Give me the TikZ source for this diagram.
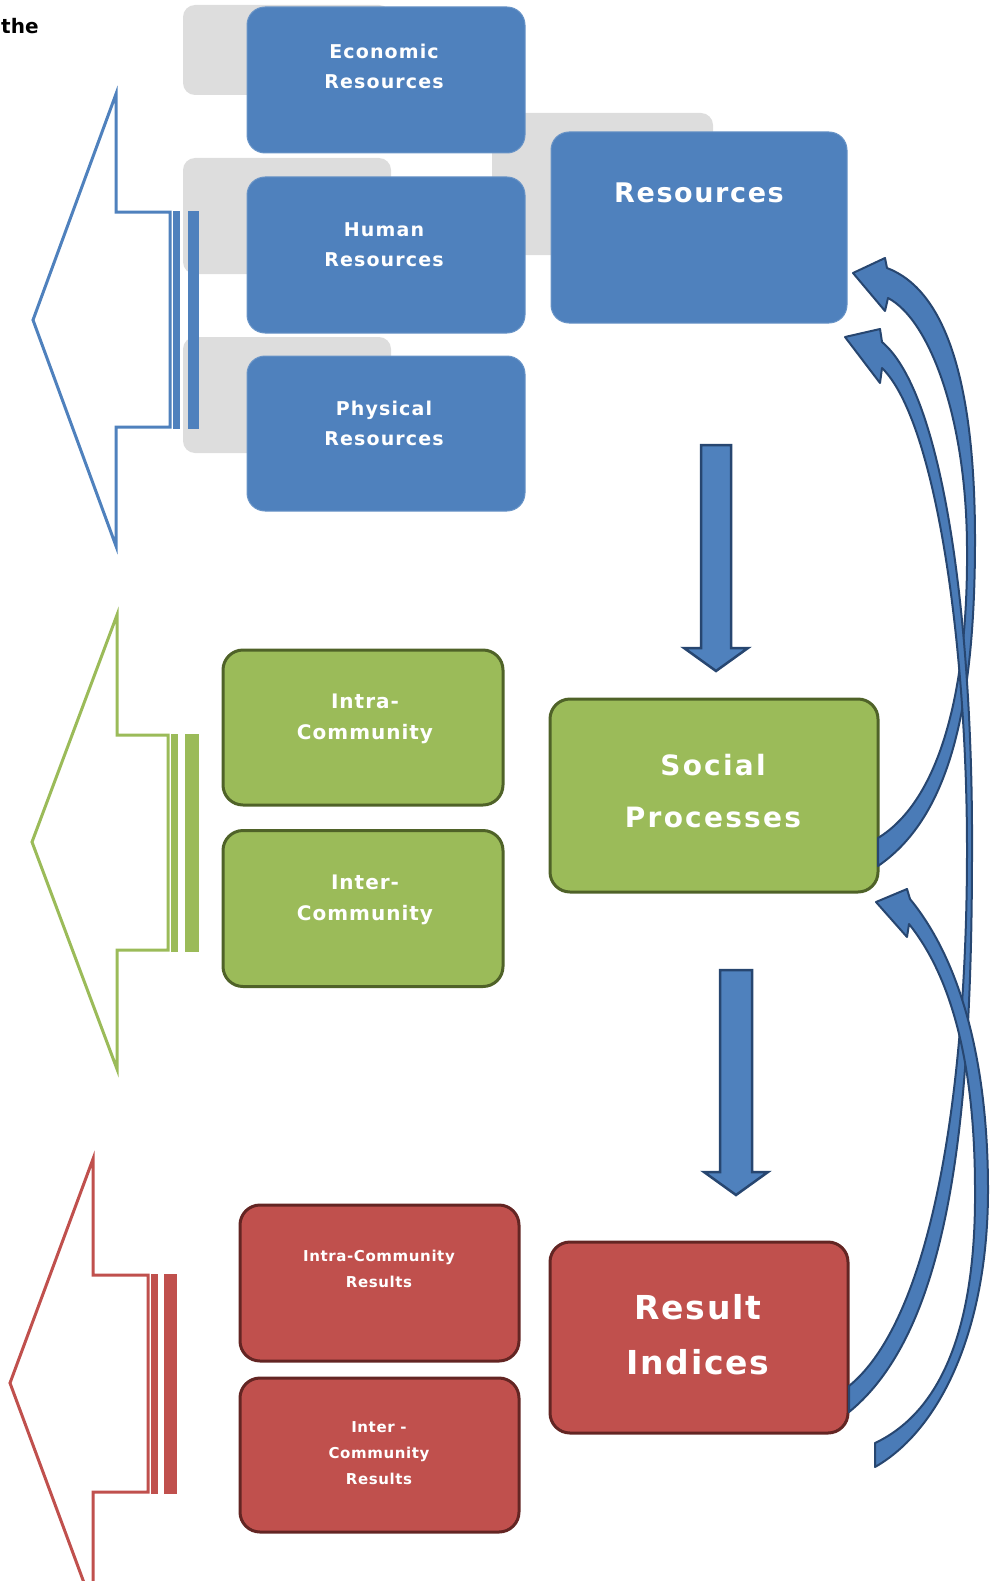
\documentclass[tikz,border=0pt]{standalone}
\usepackage{fontspec}
\setmainfont{DejaVu Sans}
\usetikzlibrary{calc}
\definecolor{cblue}{HTML}{4F81BD}
\definecolor{cgreen}{HTML}{9BBB59}
\definecolor{cred}{HTML}{C0504D}
\definecolor{dgreen}{HTML}{4F6228}
\definecolor{dred}{HTML}{632523}
\definecolor{dblue}{HTML}{274670}
\definecolor{cgray}{HTML}{DDDDDD}
\definecolor{carrow}{HTML}{4A7BB7}
\begin{document}
\begin{tikzpicture}[x=1pt,y=-1pt,
  gbox/.style={fill=cgray, rounded corners=12pt, inner sep=0pt},
  bbox/.style={fill=cblue, draw=cblue!85!white, line width=1pt, rounded corners=18pt, inner sep=0pt},
  grbox/.style={fill=cgreen, draw=dgreen, line width=3pt, rounded corners=20pt, inner sep=0pt},
  rbox/.style={fill=cred, draw=dred, line width=3pt, rounded corners=20pt, inner sep=0pt},
  txt/.style={text=white, align=center, inner sep=0pt},
  smalltxt/.style={txt, font=\fontsize{19}{30}\selectfont\bfseries\addfontfeature{LetterSpace=6}},
  greentxt/.style={txt, font=\fontsize{20}{31}\selectfont\bfseries\addfontfeature{LetterSpace=5}},
  redtxt/.style={txt, font=\fontsize{15}{26}\selectfont\bfseries\addfontfeature{LetterSpace=4}},
  outarrow/.style={line width=3pt, fill=white, line join=miter},
  blockarrow/.style={fill=cblue, draw=dblue, line width=2.5pt, line join=miter},
  curvarrow/.style={fill=carrow, draw=dblue, line width=2pt, line join=round}
]
\useasboundingbox (0,0) rectangle (995,1581);

% top fragment of text
\node[anchor=west, inner sep=0pt, font=\fontsize{20}{22}\selectfont\bfseries] (the) at (1,26) {the};

% ---------- grey shadows ----------
\node[gbox, minimum width=208pt, minimum height=90pt] (g1) at (287,50) {};
\node[gbox, minimum width=208pt, minimum height=116pt] (g2) at (287,216) {};
\node[gbox, minimum width=208pt, minimum height=116pt] (g3) at (287,395) {};
\node[gbox, minimum width=221pt, minimum height=142pt] (g4) at (602.5,184) {};

% ---------- left outline arrows ----------
% blue
\draw[outarrow, draw=cblue] (33,320) -- (116,94) -- (116,212) -- (170,212) -- (170,427) -- (116,427) -- (116,546) -- cycle;
\fill[cblue] (173,210.5) rectangle (180,428.5);
\fill[cblue] (188,210.5) rectangle (199,428.5);
% green
\draw[outarrow, draw=cgreen] (32,842) -- (117,615) -- (117,735) -- (168,735) -- (168,950) -- (117,950) -- (117,1069) -- cycle;
\fill[cgreen] (171,733.5) rectangle (178,951.5);
\fill[cgreen] (185,733.5) rectangle (199,951.5);
% red
\draw[outarrow, draw=cred] (10,1383) -- (93,1159) -- (93,1275) -- (148,1275) -- (148,1492) -- (93,1492) -- (93,1607) -- cycle;
\fill[cred] (151,1273.5) rectangle (158,1493.5);
\fill[cred] (164,1273.5) rectangle (177,1493.5);

% ---------- blue boxes ----------
\node[bbox, minimum width=278pt, minimum height=146pt] (econ) at (386,80) {};
\node[bbox, minimum width=278pt, minimum height=156pt] (human) at (386,255) {};
\node[bbox, minimum width=278pt, minimum height=155pt] (phys) at (386,433.5) {};
\node[bbox, minimum width=296pt, minimum height=191pt] (res) at (699,227.5) {};
\node[smalltxt] (econt) at (384,66) {Economic\\Resources};
\node[smalltxt] (humant) at (384,245) {Human\\Resources};
\node[smalltxt] (physt) at (384,423) {Physical\\Resources};
\node[txt, font=\fontsize{27}{30}\selectfont\bfseries\addfontfeature{LetterSpace=6}] (rest) at (699,193) {Resources};

% ---------- green boxes ----------
\node[grbox, minimum width=280pt, minimum height=155pt] (intra) at (363,727.5) {};
\node[grbox, minimum width=280pt, minimum height=156pt] (inter) at (363,908.5) {};
\node[grbox, minimum width=328pt, minimum height=193pt] (sp) at (714,795.5) {};
\node[greentxt] (intrat) at (365,719) {Intra-\\Community};
\node[greentxt] (intert) at (365,900) {Inter-\\Community};
\node[txt, font=\fontsize{28}{52}\selectfont\bfseries\addfontfeature{LetterSpace=8}] (spt) at (713,791) {Social\\Processes};

% ---------- red boxes ----------
\node[rbox, minimum width=279pt, minimum height=156pt] (rintra) at (379.5,1283) {};
\node[rbox, minimum width=279pt, minimum height=154pt] (rinter) at (379.5,1455) {};
\node[rbox, minimum width=298pt, minimum height=191pt] (ri) at (699,1337.5) {};
\node[redtxt] (rintrat) at (379,1269) {Intra-Community\\Results};
\node[redtxt] (rintert) at (379,1453) {Inter -\\Community\\Results};
\node[txt, font=\fontsize{33}{55}\selectfont\bfseries\addfontfeature{LetterSpace=5}] (rit) at (698,1335) {Result\\Indices};

% ---------- straight block arrows ----------
\coordinate (d1s) at (716,445);
\coordinate (d1e) at (716,671);
\draw[blockarrow] ($(d1s)+(-15,0)$) -- ($(d1s)+(15,0)$) -- ($(d1e)+(15,-23)$) -- ($(d1e)+(32,-23)$) -- (d1e) -- ($(d1e)+(-32,-23)$) -- ($(d1e)+(-15,-23)$) -- cycle;
\coordinate (d2s) at (736,970);
\coordinate (d2e) at (736,1195);
\draw[blockarrow] ($(d2s)+(-16,0)$) -- ($(d2s)+(16,0)$) -- ($(d2e)+(16,-23)$) -- ($(d2e)+(32,-23)$) -- (d2e) -- ($(d2e)+(-32,-23)$) -- ($(d2e)+(-16,-23)$) -- cycle;

% ---------- curved arrows ----------
% A : Social Processes -> Resources (upper head)
\filldraw[curvarrow]
  (887,268) .. controls (945,290) and (975,380) .. (975,540)
  .. controls (975,720) and (945,820) .. (878,866)
  -- (878,838) .. controls (940,800) and (968,690) .. (967,550)
  .. controls (967,420) and (930,320) .. (888,298)
  -- (885,311) -- (853,273) -- (885,258) -- cycle;
% B : Result Indices -> Resources (lower head)
\filldraw[curvarrow]
  (882,342) .. controls (945,395) and (973,630) .. (972,850)
  .. controls (972,1120) and (950,1330) .. (849,1412)
  -- (849,1386) .. controls (930,1320) and (967,1100) .. (967,850)
  .. controls (967,640) and (935,420) .. (882,368)
  -- (880,383) -- (845,337) -- (880,329) -- cycle;
% D : free end -> Social Processes
\filldraw[curvarrow]
  (910,899) .. controls (960,960) and (988,1060) .. (988,1190)
  .. controls (988,1330) and (940,1430) .. (875,1467)
  -- (875,1443) .. controls (945,1410) and (976,1320) .. (975,1190)
  .. controls (975,1060) and (950,975) .. (909,924)
  -- (907,937) -- (876,902) -- (907,889) -- cycle;
\end{tikzpicture}
\end{document}
